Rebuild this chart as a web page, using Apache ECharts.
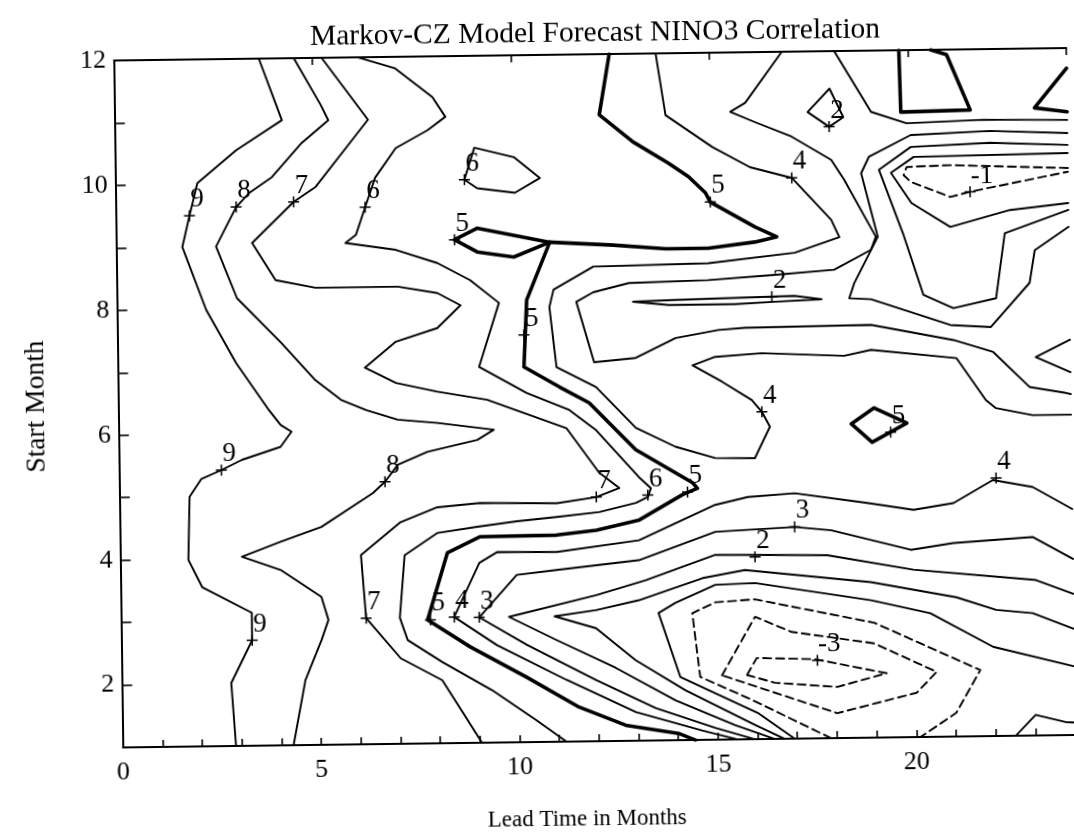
<!DOCTYPE html>
<html><head><meta charset="utf-8">
<script src="https://cdn.jsdelivr.net/npm/echarts@6/dist/echarts.min.js"></script>
<style>html,body{margin:0;padding:0;background:#fff;overflow:hidden}
#c{width:1074px;height:833px;transform:rotate(-0.75deg);transform-origin:537px 416.5px;}</style>
</head><body><div id="c"></div>
<script>
// ---- text ----
const titleText = 'Markov-CZ Model Forecast NINO3 Correlation';
const xName = 'Lead Time in Months';
const yName = 'Start Month';
const xMajor = [0,5,10,15,20];
const yMajor = [2,4,6,8,10,12];

// ---- contour lines (lead time, start month) ----
const c9 = [[3.65,12],[4.21,11.01],[3.05,10.54],[2.06,10.02],[1.85,9.50],[1.66,9.00],[2.24,7.99],[2.98,7.13],[3.79,6.37],[4.08,6.13],[4.35,6.02],[4.07,5.78],[3.09,5.58],[2.57,5.42],[2.06,5.28],[1.76,5.00],[1.71,3.99],[2.05,3.55],[3.29,3.13],[3.29,2.69],[2.75,2.01],[2.85,1]];
const c8 = [[4.53,12],[5.19,11.25],[5.38,11.00],[4.70,10.64],[3.94,10.10],[3.36,9.85],[3.03,9.63],[2.51,9.00],[3.02,8.17],[4.13,7.44],[4.97,6.84],[5.61,6.52],[6.24,6.35],[7.03,6.19],[8.03,6.13],[9.45,6.01],[9.03,5.85],[7.77,5.67],[7.02,5.47],[6.69,5.20],[6.38,5.02],[5.07,4.49],[4.04,4.26],[3.06,4.03],[4.03,3.81],[5.05,3.37],[5.22,3.00],[5.04,2.68],[4.62,2.04],[4.3,1]];
const c7 = [[5.23,12],[6.38,11.00],[5.03,9.93],[4.48,9.70],[3.42,9.05],[4.00,8.45],[5.00,8.32],[7.08,8.32],[8.07,8.21],[8.65,8.01],[8.06,7.65],[7.01,7.44],[6.22,7.03],[7.00,6.78],[8.04,6.63],[9.29,6.49],[11.28,6.02],[12.09,5.30],[12.59,5.05],[12.01,4.91],[11.01,4.82],[9.08,4.84],[8.00,4.78],[7.07,4.55],[6.06,4.03],[6.17,3.02],[7.03,2.37],[8.07,2.01],[9.05,1]];
const c6 = [[6.15,12],[7.07,11.82],[8.01,11.35],[8.33,11.03],[7.88,10.82],[7.07,10.54],[6.54,10.07],[6.28,9.60],[6.04,9.16],[5.77,9.03],[7.04,8.91],[8.08,8.69],[8.90,8.41],[9.62,8.04],[9.10,7.02],[10.29,6.59],[11.36,6.31],[12.03,5.98],[13.09,5.22],[13.39,5.04],[13.31,4.90],[13.01,4.81],[12.08,4.67],[11.00,4.60],[10.00,4.54],[9.00,4.46],[8.00,4.37],[7.16,4.02],[7.02,3.02],[7.21,2.66],[8.08,2.30],[9.32,1.84],[10.43,1.35],[11.18,1]];
const c6island = [[9.05,10.53],[10.04,10.37],[10.69,10.03],[10.06,9.80],[9.11,9.88],[8.79,10.02],[9.05,10.53]];
const c5main = [[12.48,12],[12.21,11.03],[13.05,10.59],[13.94,10.24],[14.44,10.02],[14.86,9.76],[14.98,9.61],[16.10,9.20],[16.64,9.04],[16.09,8.96],[14.91,8.87],[13.84,8.87],[12.52,8.94],[10.92,9.00],[10.32,8.08],[10.23,7.01],[11.12,6.68],[11.86,6.42],[13.02,5.66],[14.44,5.12],[14.56,5.03],[14.18,4.93],[13.07,4.53],[12.00,4.38],[11.00,4.31],[9.07,4.30],[8.24,4.05],[7.72,2.98],[8.78,2.54],[10.20,2.04],[11.51,1.55],[12.68,1.25],[14.00,1.11],[14.43,1]];
const c5loop = [[10.92,9.00],[9.10,9.24],[8.52,9.06],[9.09,8.86],[10.01,8.77],[10.92,9.00]];
const c5diamond = [[18.46,6.03],[19.04,6.28],[19.86,6.03],[18.98,5.73],[18.46,6.03]];
const c5trap = [[19.78,12],[19.81,11.01],[21.56,11.03],[20.98,11.92],[20.58,12]];
const c5tri = [[24,11.68],[23.18,11.05],[24,10.98]];
const c4 = [[13.65,12],[13.88,11.01],[15.05,10.49],[15.99,10.16],[17.04,9.98],[18.02,9.30],[18.22,9.02],[17.09,8.78],[14.91,8.63],[12.01,8.60],[11.00,8.24],[10.89,7.96],[11.05,7.00],[12.04,6.67],[13.03,6.01],[14.02,5.70],[15.02,5.51],[16.02,5.50],[16.41,6.00],[16.21,6.24],[15.96,6.43],[15.22,6.73],[14.48,7.00],[15.05,7.13],[16.23,7.18],[18.30,7.12],[18.98,7.21],[21.13,7.06],[21.86,6.38],[22.11,6.25],[23.03,6.13],[24,6.13]];
const c3 = [[16.83,12],[15.89,11.19],[15.51,11.05],[16.13,10.88],[17.05,10.64],[18.04,10.26],[18.36,9.94],[19.14,9.02],[19.01,8.81],[18.08,8.50],[16.58,8.43],[14.90,8.36],[12.90,8.33],[12.00,8.19],[11.57,8.04],[12.00,7.07],[13.05,7.13],[14.06,7.44],[15.14,7.56],[15.81,7.59],[18.99,7.61],[21.06,7.35],[22.06,7.15],[22.97,6.58],[23.87,6.48],[24,6.46]];
const c2sliver = [[13.00,8.03],[14.07,8.05],[15.57,8.07],[17.07,8.09],[17.75,8.03],[16.57,8.00],[15.57,7.97],[13.90,7.97],[13.00,8.03]];
const c2diamond = [[17.46,11.03],[18.02,11.40],[18.36,10.94],[18.00,10.79],[17.46,11.03]];
const cTop = [[18.15,12],[19.06,11.02],[19.95,10.83],[21.88,10.87],[24,10.85]];
const cRing2 = [[24,10.64],[22.05,10.69],[20.05,10.64],[18.99,10.30],[18.79,10.04],[19.19,9.02],[18.58,8.28],[18.45,8.04],[19.00,8.02],[20.99,7.59],[22.01,7.55],[23.00,8.25],[23.14,8.77],[24,9.14]];
const cRing1 = [[24,10.45],[22.05,10.50],[20.05,10.45],[19.24,10.09],[19.84,9.04],[20.32,8.08],[21.07,7.86],[22.15,8.01],[22.39,9.05],[24,9.41]];
const cRing0 = [[24,10.32],[20.12,10.29],[19.54,10.04],[20.05,9.55],[21.02,9.16],[22.53,9.42],[24,9.52]];
const cNeg1top = [[24,10.08],[21.04,10.15],[19.94,10.13],[19.86,10.00],[20.04,9.89],[21.03,9.64],[21.53,9.72],[24,10.02]];
const cEdgeTip = [[24,7.33],[23.13,7.06],[24,6.81]];
const cBump = [[22.50,1],[23.01,1.33],[23.76,1.21],[24,1.2]];
const c4low = [[24,4.62],[23.01,4.98],[22.01,5.10],[21.01,4.74],[20.00,4.64],[18.83,4.76],[17.01,4.93],[15.83,4.88],[15.00,4.76],[13.07,4.21],[10.99,4.04],[9.49,4.05],[9.04,3.88],[8.39,3.02],[9.46,2.56],[11.20,1.99],[12.94,1.46],[14.6,1.15],[15.5,1]];
const c3low = [[24,3.82],[22.99,4.18],[20.99,4.10],[19.92,4.00],[17.92,4.33],[17.00,4.39],[15.00,4.33],[13.06,3.89],[10.98,3.75],[9.98,3.68],[9.02,3.01],[10.21,2.56],[11.95,1.98],[13.44,1.52],[14.93,1.19],[15.93,1]];
const c2low = [[24,3.26],[23.06,3.49],[19.98,3.68],[17.81,3.93],[15.99,3.95],[14.99,3.96],[13.23,3.57],[11.98,3.34],[9.77,3.01],[10.96,2.63],[12.45,2.17],[13.94,1.64],[15.43,1.23],[16.43,1]];
const c1low = [[24,2.70],[22.97,2.96],[22.05,3.02],[21.05,3.23],[18.90,3.49],[15.73,3.71],[14.66,3.59],[13.05,3.25],[11.97,3.10],[10.92,3.01],[11.96,2.81],[12.95,2.29],[14.19,1.80],[15.93,1.23],[16.68,1]];
const c0low = [[24,2.10],[21.96,2.43],[20.39,2.98],[18.90,3.20],[15.98,3.50],[14.98,3.48],[13.97,3.20],[13.54,3.04],[14.07,2.01],[16.01,1.42],[16.93,1]];
const cNeg1low = [[17.85,1],[15.87,1.63],[14.57,2.01],[14.39,3.03],[14.97,3.20],[15.97,3.24],[18.97,2.84],[21.63,2.06],[21.01,1.38],[20.1,1]];
const cNeg2 = [[15.12,2.03],[15.97,2.96],[16.89,2.71],[18.96,2.51],[20.53,2.04],[20.02,1.71],[18.01,1.40],[15.12,2.03]];
const cNeg3 = [[15.75,2.03],[16.00,2.30],[17.45,2.27],[19.27,2.03],[18.02,1.82],[16.45,1.90],[15.75,2.03]];

// contour labels: [lead, month, text]
const contourLabels = [[1.85,9.50,'9'],[3.03,9.63,'8'],[4.48,9.70,'7'],[6.28,9.60,'6'],[8.79,10.02,'6'],[8.52,9.06,'5'],[14.98,9.61,'5'],[17.04,9.98,'4'],[18.00,10.79,'2'],[21.53,9.72,'-1'],[16.50,8.08,'2'],[10.24,7.52,'5'],[16.21,6.24,'4'],[19.45,5.89,'5'],[2.57,5.42,'9'],[6.69,5.20,'8'],[12.01,4.91,'7'],[13.31,4.93,'6'],[14.31,4.97,'5'],[22.09,5.13,'4'],[17.00,4.39,'3'],[15.99,3.92,'2'],[3.29,2.69,'9'],[6.17,3.02,'7'],[7.79,2.98,'5'],[8.39,3.02,'4'],[9.02,3.01,'3'],[17.53,2.25,'-3']];

const thinLines = [c9,c8,c7,c6,c6island,c4,c3,c2sliver,c2diamond,cTop,cRing2,cRing1,cRing0,cEdgeTip,cBump,c4low,c3low,c2low,c1low,c0low];
const thickLines = [c5main,c5loop,c5diamond,c5trap,c5tri];
const dashedLines = [cNeg1top,cNeg1low,cNeg2,cNeg3];

const FONT = '"Liberation Serif", "Times New Roman", serif';
const series = [];
function addLine(d, width, type){
  series.push({type:'line', data:d, symbol:'none', showSymbol:false, silent:true, animation:false, clip:true,
    lineStyle:{color:'#000', width:width, type:type, opacity:1, cap:'round', join:'round'}});
}
thinLines.forEach(d=>addLine(d,1.9,'solid'));
thickLines.forEach(d=>addLine(d,3.6,'solid'));
dashedLines.forEach(d=>addLine(d,1.9,[8,5]));
const labelStyle = {show:true, position:'inside', color:'#000', opacity:1, fontSize:27, fontFamily:FONT,
  textBorderWidth:0, formatter:p=>p.value[2]};
series.push({type:'scatter', silent:true, animation:false, z:5,
  symbol:'path://M0,5L10,5M5,0L5,10', symbolSize:11,
  itemStyle:{color:'none', borderColor:'#000', borderWidth:1.5, opacity:1},
  data: contourLabels.map(l=>({value:[l[0],l[1],l[2]],
    label:Object.assign({}, labelStyle, {offset:[l[2].length>1?12:8,-16]})})),
  label:labelStyle
});

const chart = echarts.init(document.getElementById('c'), null, {renderer:'canvas'});
const axisCommon = {axisLine:{lineStyle:{color:'#000',width:2}}, splitLine:{show:false}};
chart.setOption({
  backgroundColor:'#fff',
  animation:false,
  grid:{left:118.7, top:55.05, width:960, height:687, containLabel:false},
  xAxis:[
    Object.assign({type:'value', min:0, max:24, interval:1, position:'bottom',
      axisTick:{inside:true, length:7, lineStyle:{color:'#000',width:1.6}},
      axisLabel:{margin:12, fontSize:26, fontFamily:FONT, color:'#000', formatter:v=>xMajor.includes(v)?String(v):''}}, axisCommon),
    Object.assign({type:'value', min:0, max:24, interval:5, position:'top',
      axisTick:{inside:true, length:7, lineStyle:{color:'#000',width:1.6}}, axisLabel:{show:false}}, axisCommon)
  ],
  yAxis:[Object.assign({type:'value', min:1, max:12, interval:1,
      axisTick:{inside:true, length:10, lineStyle:{color:'#000',width:1.6}},
      axisLabel:{margin:8, fontSize:26, fontFamily:FONT, color:'#000', formatter:v=>yMajor.includes(v)?String(v):''}}, axisCommon)],
  graphic:[
    {type:'text', x:600, y:34, style:{text:titleText, fontSize:29.5, fontFamily:FONT, fill:'#000', align:'center', verticalAlign:'middle'}},
    {type:'text', x:582, y:820, style:{text:xName, fontSize:23, fontFamily:FONT, fill:'#000', align:'center', verticalAlign:'middle'}},
    {type:'text', x:37, y:400, rotation:Math.PI/2, style:{text:yName, fontSize:27.5, fontFamily:FONT, fill:'#000', align:'center', verticalAlign:'middle'}}
  ],
  series: series
});
</script></body></html>
